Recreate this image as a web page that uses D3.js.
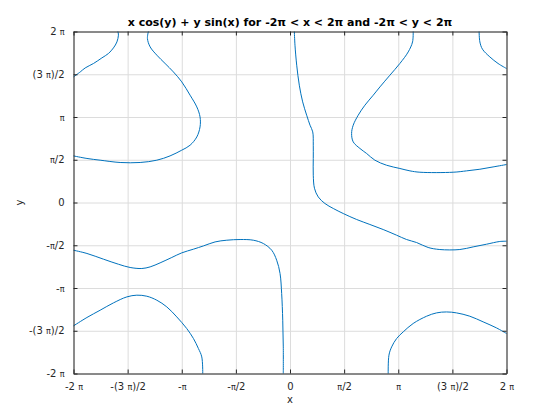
<!DOCTYPE html>
<html>
<head>
<meta charset="utf-8">
<script src="https://cdn.jsdelivr.net/npm/d3@7"></script>
<style>
  body { margin: 0; background: #fff; }
  svg { display: block; }
</style>
</head>
<body>
<div id="chart"></div>
<script>
// all values are in multiples of pi
const xTicks = [-2, -1.5, -1, -0.5, 0, 0.5, 1, 1.5, 2];
const xTickLabels = ["-2 π", "-(3 π)/2", "-π", "-π/2", "0", "π/2", "π", "(3 π)/2", "2 π"];
const yTicks = [-2, -1.5, -1, -0.5, 0, 0.5, 1, 1.5, 2];
const yTickLabels = ["-2 π", "-(3 π)/2", "-π", "-π/2", "0", "π/2", "π", "(3 π)/2", "2 π"];

// contour pieces of x cos(y) + y sin(x) = 0: [x, y]
const arcTopLeft = [[-2.0,1.469],[-1.938,1.527],[-1.892,1.574],[-1.815,1.626],[-1.738,1.691],[-1.677,1.743],[-1.631,1.808],[-1.599,1.878],[-1.585,1.957],[-1.590,2.0]];
const loopLeft = [[-1.308,2.0],[-1.317,1.918],[-1.292,1.820],[-1.230,1.723],[-1.154,1.626],[-1.077,1.527],[-1.0,1.411],[-0.923,1.255],[-0.861,1.118],[-0.831,1.001],[-0.831,0.884],[-0.861,0.767],[-0.923,0.670],[-1.0,0.612],[-1.108,0.545],[-1.230,0.495],[-1.384,0.468],[-1.569,0.468],[-1.754,0.495],[-1.876,0.515],[-2.0,0.545]];
const curveCenter = [[0.040,2.0],[0.046,1.840],[0.062,1.606],[0.086,1.372],[0.117,1.177],[0.154,1.021],[0.185,0.904],[0.210,0.826],[0.215,0.670],[0.215,0.515],[0.215,0.319],[0.226,0.167],[0.261,0.065],[0.323,-0.012],[0.400,-0.070],[0.492,-0.129],[0.616,-0.199],[0.738,-0.257],[0.861,-0.316],[0.984,-0.382],[1.077,-0.433],[1.169,-0.468],[1.276,-0.526],[1.384,-0.550],[1.569,-0.550],[1.692,-0.519],[1.815,-0.488],[1.938,-0.456],[2.0,-0.453]];
const curveTopRight = [[1.138,2.0],[1.132,1.878],[1.092,1.761],[1.015,1.626],[0.923,1.489],[0.831,1.352],[0.769,1.255],[0.692,1.138],[0.630,1.021],[0.584,0.904],[0.569,0.807],[0.584,0.709],[0.646,0.632],[0.708,0.573],[0.784,0.495],[0.892,0.436],[1.015,0.398],[1.108,0.370],[1.200,0.354],[1.507,0.354],[1.631,0.370],[1.754,0.389],[1.876,0.416],[2.0,0.444]];
const arcTopCorner = [[1.747,2.0],[1.754,1.878],[1.778,1.793],[1.846,1.703],[1.922,1.626],[2.0,1.567]];
const curveLowerLeft = [[-2.0,-0.558],[-1.876,-0.596],[-1.723,-0.663],[-1.585,-0.722],[-1.477,-0.760],[-1.369,-0.772],[-1.292,-0.753],[-1.200,-0.706],[-1.092,-0.643],[-1.0,-0.589],[-0.892,-0.546],[-0.800,-0.508],[-0.692,-0.461],[-0.584,-0.441],[-0.461,-0.433],[-0.339,-0.441],[-0.246,-0.480],[-0.169,-0.558],[-0.123,-0.675],[-0.092,-0.830],[-0.077,-1.064],[-0.067,-1.377],[-0.062,-1.689],[-0.062,-2.0]];
const arcBottomLeft = [[-2.0,-1.443],[-1.876,-1.345],[-1.754,-1.260],[-1.631,-1.174],[-1.507,-1.104],[-1.415,-1.084],[-1.323,-1.096],[-1.230,-1.143],[-1.138,-1.221],[-1.046,-1.338],[-0.954,-1.474],[-0.892,-1.591],[-0.846,-1.708],[-0.815,-1.806],[-0.806,-2.0]];
const arcBottomRight = [[0.907,-2.0],[0.914,-1.786],[0.939,-1.689],[0.985,-1.591],[1.046,-1.513],[1.138,-1.415],[1.262,-1.330],[1.354,-1.291],[1.446,-1.280],[1.538,-1.291],[1.661,-1.330],[1.784,-1.396],[1.908,-1.467],[2.0,-1.532]];

const curves = [arcTopLeft, loopLeft, curveCenter, curveTopRight, arcTopCorner, curveLowerLeft, arcBottomLeft, arcBottomRight];

const WIDTH = 560;
const HEIGHT = 420;
const margin = { top: 31.5, right: 53.5, bottom: 46.5, left: 73.5 };
const w = WIDTH - margin.left - margin.right;
const h = HEIGHT - margin.top - margin.bottom;
const FONT = "'DejaVu Sans', sans-serif";
const INK = "#262626";

const svg = d3.select("#chart").append("svg")
    .attr("width", WIDTH)
    .attr("height", HEIGHT)
    .style("background", "#fff");

const g = svg.append("g")
    .attr("transform", `translate(${margin.left}, ${margin.top})`);

const x = d3.scaleLinear().domain([-2, 2]).range([0, w]);
const y = d3.scaleLinear().domain([-2, 2]).range([h, 0]);

// grid
g.append("g")
    .attr("transform", `translate(0, ${h})`)
    .call(d3.axisBottom(x).tickValues(xTicks).tickSize(-h).tickFormat(""))
    .call(a => a.select(".domain").remove())
    .selectAll("line").attr("stroke", "#dcdcdc");
g.append("g")
    .call(d3.axisLeft(y).tickValues(yTicks).tickSize(-w).tickFormat(""))
    .call(a => a.select(".domain").remove())
    .selectAll("line").attr("stroke", "#dcdcdc");

// curves
const line = d3.line()
    .x(d => x(d[0]))
    .y(d => y(d[1]))
    .curve(d3.curveCatmullRom.alpha(0.5));
g.append("g").selectAll("path")
    .data(curves)
    .enter().append("path")
    .attr("d", line)
    .attr("fill", "none")
    .attr("stroke", "#0072bd")
    .attr("stroke-width", 1);

// puts pi as a smaller glyph, like octave does
function piLabel(sel, labels) {
    sel.each(function(d, i) {
        const t = d3.select(this).text(null);
        const parts = labels[i].split("π");
        parts.forEach((p, k) => {
            if (p) t.append("tspan").text(p);
            if (k < parts.length - 1) t.append("tspan").attr("font-size", "8px").text("π");
        });
    });
}

const xAxis = g.append("g")
    .attr("transform", `translate(0, ${h})`)
    .call(d3.axisBottom(x).tickValues(xTicks).tickSizeInner(-4).tickSizeOuter(0).tickPadding(9));
const yAxis = g.append("g")
    .call(d3.axisLeft(y).tickValues(yTicks).tickSizeInner(-4).tickSizeOuter(0).tickPadding(9));
g.append("g")
    .call(d3.axisTop(x).tickValues(xTicks).tickSizeInner(-4).tickSizeOuter(0).tickFormat(""));
g.append("g")
    .attr("transform", `translate(${w}, 0)`)
    .call(d3.axisRight(y).tickValues(yTicks).tickSizeInner(-4).tickSizeOuter(0).tickFormat(""));

g.selectAll(".domain").attr("stroke", INK);
g.selectAll(".tick line").filter(function() { return +this.getAttribute("x2") === -4 || +this.getAttribute("y2") === 4 || +this.getAttribute("y2") === -4 || +this.getAttribute("x2") === 4; })
    .attr("stroke", INK);

xAxis.selectAll("text").call(piLabel, xTickLabels);
yAxis.selectAll("text").call(piLabel, yTickLabels);
g.selectAll(".tick text")
    .attr("fill", INK)
    .style("font-family", FONT)
    .style("font-size", "10px");

// axis labels and title
svg.append("text")
    .attr("x", margin.left + w / 2)
    .attr("y", 403)
    .attr("text-anchor", "middle")
    .style("font-family", FONT)
    .style("font-size", "10px")
    .attr("fill", INK)
    .text("x");

svg.append("text")
    .attr("transform", `translate(23, ${margin.top + h / 2}) rotate(-90)`)
    .attr("text-anchor", "middle")
    .style("font-family", FONT)
    .style("font-size", "10px")
    .attr("fill", INK)
    .text("y");

svg.append("text")
    .attr("x", margin.left + w / 2)
    .attr("y", 26)
    .attr("text-anchor", "middle")
    .style("font-family", FONT)
    .style("font-size", "11px")
    .style("font-weight", "bold")
    .attr("fill", "#000")
    .text("x cos(y) + y sin(x) for -2π < x < 2π and -2π < y < 2π");
</script>
</body>
</html>
